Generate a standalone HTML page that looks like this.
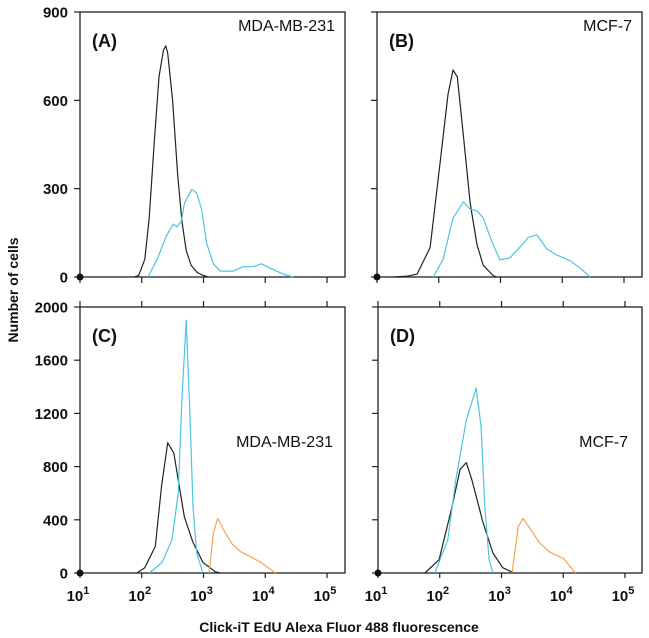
<!DOCTYPE html>
<html><head><meta charset="utf-8">
<style>
html,body{margin:0;padding:0;background:#fff;}
svg{display:block;font-family:"Liberation Sans",Arial,sans-serif;}
</style></head>
<body>
<svg id="chart" width="649" height="638" viewBox="0 0 649 638"></svg>
<script>
// Panel data: x as log10(fluorescence), y as cell counts
const aBlackX=[1.88,1.95,2.05,2.12,2.2,2.28,2.35,2.39,2.42,2.5,2.58,2.65,2.72,2.8,2.9,3.0,3.08];
const aBlackY=[0,5,60,200,450,680,770,785,760,600,350,190,90,40,15,5,0];
const aCyanX=[2.10,2.25,2.40,2.51,2.57,2.64,2.69,2.81,2.89,2.97,3.05,3.16,3.27,3.48,3.64,3.80,3.94,4.08,4.29,4.45];
const aCyanY=[0,60,140,180,170,190,250,298,285,230,115,45,20,20,35,35,45,30,10,0];
const bBlackX=[1.26,1.5,1.65,1.86,2.02,2.15,2.23,2.30,2.40,2.51,2.62,2.72,2.88,2.94];
const bBlackY=[0,3,10,100,385,620,703,680,480,250,110,40,5,0];
const bCyanX=[1.91,2.07,2.23,2.40,2.51,2.62,2.72,2.86,2.99,3.15,3.31,3.45,3.59,3.75,3.91,4.13,4.29,4.45];
const bCyanY=[0,60,200,255,230,225,200,120,58,65,100,135,143,95,75,55,30,0];
const cBlackX=[1.92,2.05,2.22,2.32,2.42,2.52,2.59,2.69,2.83,2.99,3.19,3.27];
const cBlackY=[0,40,200,650,980,900,700,420,230,80,10,0];
const cCyanX=[2.12,2.33,2.49,2.59,2.65,2.72,2.78,2.83,2.89,2.99];
const cCyanY=[0,80,250,600,1300,1900,1200,500,150,0];
const cOrangeX=[3.09,3.16,3.23,3.33,3.46,3.60,3.73,3.93,4.17];
const cOrangeY=[0,300,410,320,220,160,130,80,0];
const dBlackX=[1.76,1.99,2.2,2.33,2.43,2.52,2.7,2.86,3.02,3.2];
const dBlackY=[0,100,500,780,830,700,380,150,40,0];
const dCyanX=[1.92,2.13,2.26,2.43,2.59,2.67,2.73,2.8,2.86];
const dCyanY=[0,250,700,1150,1390,1100,500,100,0];
const dOrangeX=[3.17,3.27,3.35,3.47,3.61,3.77,4.0,4.2];
const dOrangeY=[0,350,410,330,230,160,110,0];
const topTicks=[0,300,600,900];
const botTicks=[0,400,800,1200,1600,2000];
const xDecades=[1,2,3,4,5];

const NS="http://www.w3.org/2000/svg";
const svg=document.getElementById('chart');
function mk(tag,attrs,parent){const e=document.createElementNS(NS,tag);for(const k in attrs)e.setAttribute(k,attrs[k]);(parent||svg).appendChild(e);return e;}

const panels=[
 {id:'a',x0:80,x1:345,yt:12,yb:277,max:900,ticks:topTicks,labels:true,top:true,tag:'(A)',cell:'MDA-MB-231',cx:335,cy:31,
  series:[[aBlackX,aBlackY,'#222'],[aCyanX,aCyanY,'#4cc4e2']]},
 {id:'b',x0:377,x1:642,yt:12,yb:277,max:900,ticks:topTicks,labels:false,top:true,tag:'(B)',cell:'MCF-7',cx:632,cy:31,
  series:[[bBlackX,bBlackY,'#222'],[bCyanX,bCyanY,'#4cc4e2']]},
 {id:'c',x0:80,x1:345,yt:307,yb:573,max:2000,ticks:botTicks,labels:true,top:false,tag:'(C)',cell:'MDA-MB-231',cx:333,cy:447,
  series:[[cBlackX,cBlackY,'#222'],[cCyanX,cCyanY,'#4cc4e2'],[cOrangeX,cOrangeY,'#f3a552']]},
 {id:'d',x0:378,x1:642,yt:307,yb:573,max:2000,ticks:botTicks,labels:false,top:false,tag:'(D)',cell:'MCF-7',cx:628,cy:447,
  series:[[dBlackX,dBlackY,'#222'],[dCyanX,dCyanY,'#4cc4e2'],[dOrangeX,dOrangeY,'#f3a552']]}
];

panels.forEach(p=>{
 const g=mk('g',{});
 
 
 const dec=61.75;
 const sx=v=>p.x0+(v-1)*dec;
 const sy=v=>p.yb-(v/p.max)*(p.yb-p.yt);
 const frame=mk('rect',{x:p.x0,y:p.yt,width:p.x1-p.x0,height:p.yb-p.yt,fill:'none',stroke:'#222','stroke-width':1.3},g);
 
 
 p.ticks.forEach(t=>{
  const y=sy(t);
  mk('line',{x1:p.x0-6,x2:p.x0,y1:y,y2:y,stroke:'#222','stroke-width':1.2},g);
  if(p.labels){
   const tx=mk('text',{x:p.x0-12,y:y+5.5,'text-anchor':'end','font-size':15,'font-weight':'bold',fill:'#111'},g);
   tx.textContent=t;
   
   
  }
 });
 xDecades.forEach(d=>{
  const x=sx(d);
  if(p.top){ mk('line',{x1:x,x2:x,y1:p.yb,y2:p.yb+6,stroke:'#222','stroke-width':1.2},g); }
  else{
   mk('line',{x1:x,x2:x,y1:p.yt-6,y2:p.yt,stroke:'#222','stroke-width':1.2},g);
   mk('line',{x1:x,x2:x,y1:p.yb,y2:p.yb+5,stroke:'#222','stroke-width':1.2},g);
   const tx=mk('text',{x:x-2,y:p.yb+28,'text-anchor':'middle','font-size':15,'font-weight':'bold',fill:'#111'},g);
   tx.innerHTML='10<tspan dy="-7" font-size="11">'+d+'</tspan>';
   
   
  }
 });
 p.series.forEach((s,i)=>{
  const pts=s[0].map((v,k)=>sx(v).toFixed(1)+','+sy(s[1][k]).toFixed(1)).join(' ');
  const pl=mk('polyline',{points:pts,fill:'none',stroke:s[2],'stroke-width':1.2,'stroke-linejoin':'round'},g);
  
  
 });
 mk('circle',{cx:p.x0,cy:p.yb,r:3.5,fill:'#111'},g);
 const tg=mk('text',{x:p.x0+12,y:p.yt+35,'font-size':18,'font-weight':'bold',fill:'#111'},g);
 tg.textContent=p.tag;
 
 
 const cl=mk('text',{x:p.cx,y:p.cy,'text-anchor':'end','font-size':16,fill:'#111'},g);
 cl.textContent=p.cell;
 
 
});

const yl=mk('text',{x:0,y:0,transform:'translate(18,290) rotate(-90)','text-anchor':'middle','font-size':14,'font-weight':'bold',fill:'#111'});
yl.textContent='Number of cells';


const xl=mk('text',{x:339,y:632,'text-anchor':'middle','font-size':14,'font-weight':'bold',fill:'#111'});
xl.textContent='Click-iT EdU Alexa Fluor 488 fluorescence';


</script>
</body></html>
